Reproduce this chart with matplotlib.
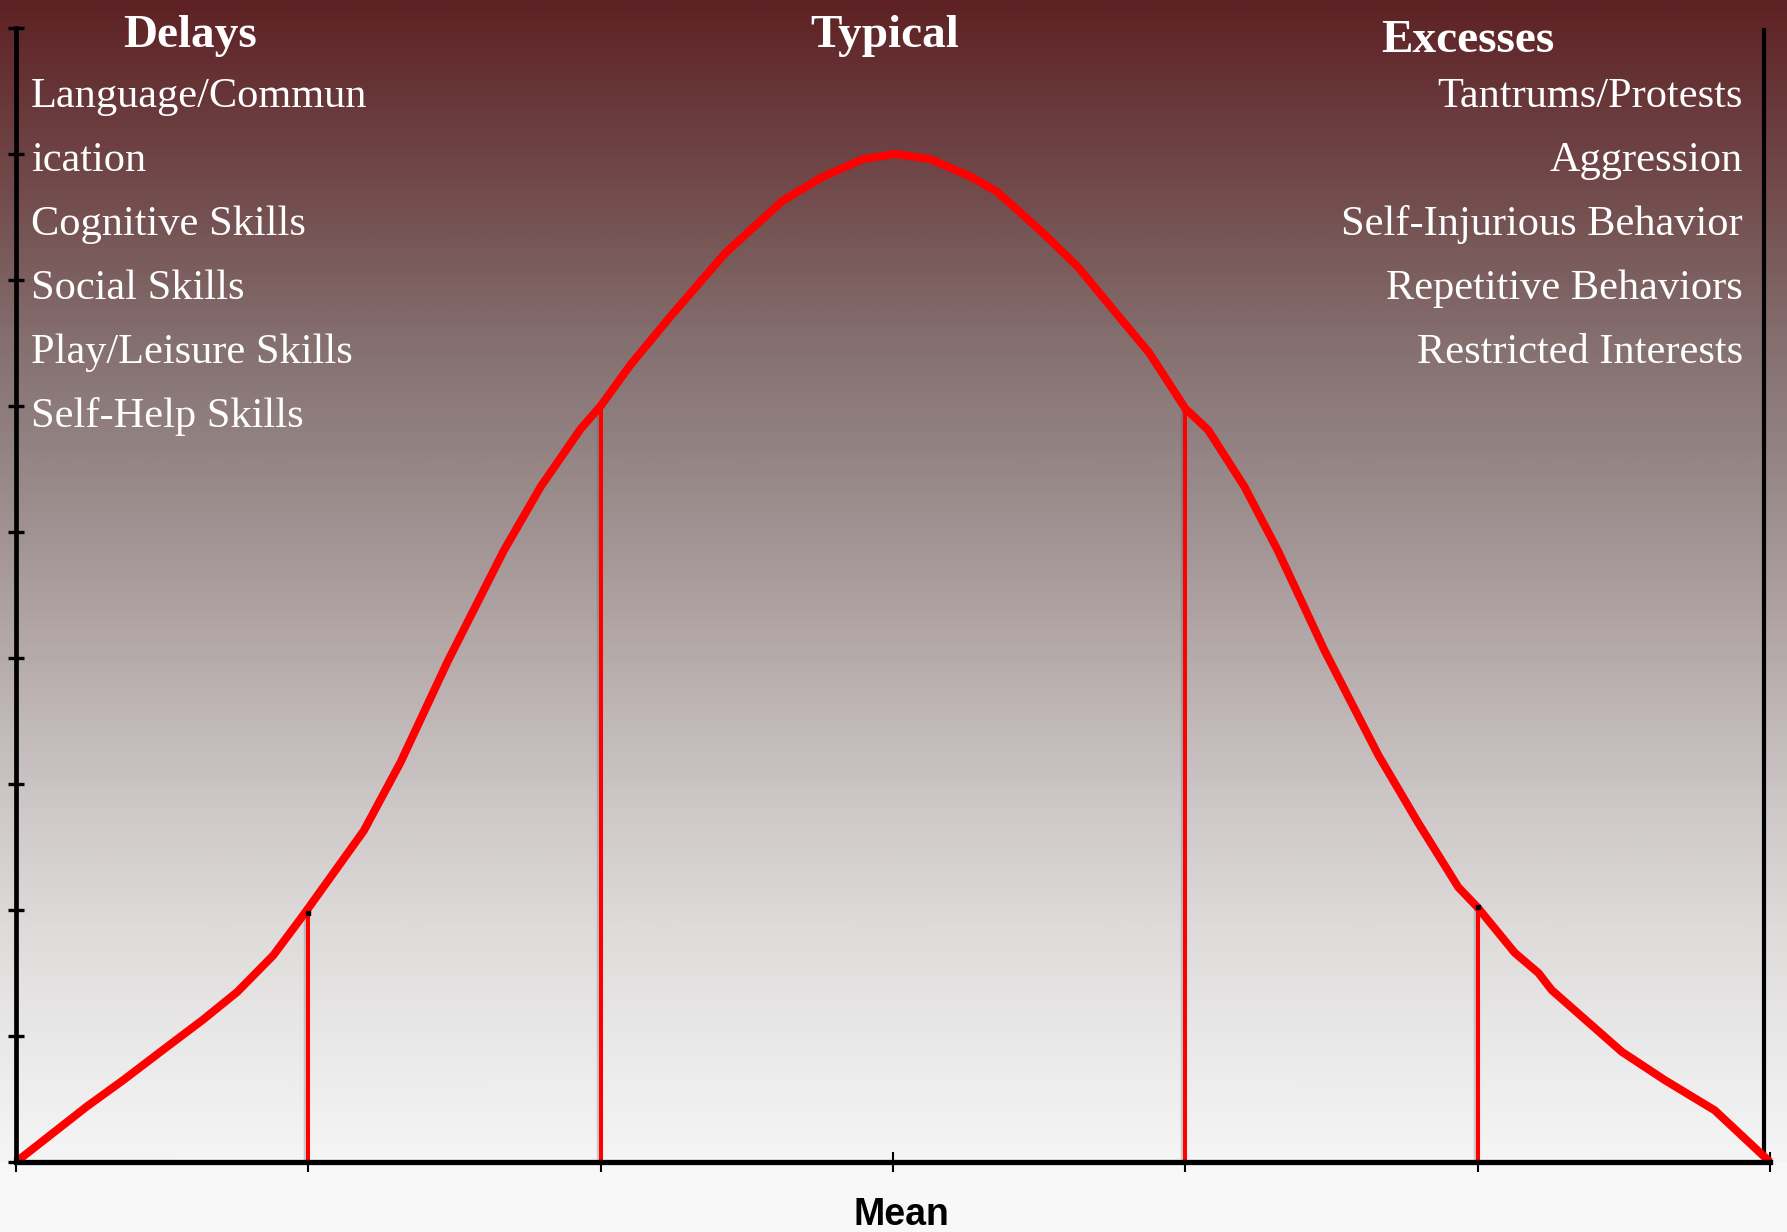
import numpy as np
import matplotlib
matplotlib.use("Agg")
import matplotlib.pyplot as plt
from matplotlib.colors import LinearSegmentedColormap
import matplotlib.transforms as mtransforms

# ---- data ----
curve_x = [-3.0, -2.758, -2.633, -2.497, -2.36, -2.243, -2.12, -2.017, -1.949, -1.81,
           -1.743, -1.685, -1.524, -1.332, -1.205, -1.068, -1.0, -0.897, -0.758, -0.575,
           -0.5, -0.377, -0.24, -0.101, 0.007, 0.127, 0.266, 0.356, 0.51, 0.634,
           0.755, 0.877, 1.0, 1.078, 1.202, 1.317, 1.476, 1.66, 1.797, 1.934,
           2.0, 2.127, 2.208, 2.253, 2.493, 2.64, 2.811, 3.0]
curve_y = [0.0, 0.44, 0.65, 0.89, 1.13, 1.35, 1.64, 1.96, 2.18, 2.63,
           2.92, 3.17, 3.97, 4.85, 5.36, 5.82, 6.0, 6.33, 6.72, 7.21,
           7.37, 7.63, 7.82, 7.96, 8.0, 7.96, 7.82, 7.70, 7.38, 7.10,
           6.76, 6.42, 5.98, 5.81, 5.36, 4.85, 4.06, 3.23, 2.69, 2.18,
           2.02, 1.66, 1.50, 1.365, 0.875, 0.65, 0.41, 0.0]
sd_x = [-2, -1, 1, 2]
sd_top = [1.98, 6.0, 5.98, 2.02]
x_ticks = [-3, -2, -1, 0, 1, 2, 3]
y_ticks = list(range(0, 10))

headers = ["Delays", "Typical", "Excesses"]
delays = ["Language/Commun", "ication", "Cognitive Skills", "Social Skills",
          "Play/Leisure Skills", "Self-Help Skills"]
excesses = ["Tantrums/Protests", "Aggression", "Self-Injurious Behavior",
            "Repetitive Behaviors", "Restricted Interests"]
xlabel = "Mean"

W, H = 1787, 1232
fig = plt.figure(figsize=(W / 100, H / 100), dpi=100)

# ---- background gradient ----
bg = fig.add_axes([0, 0, 1, 1], zorder=-10)
bg.set_axis_off()
stops = ["#5E2124", "#6A3B3D", "#775555", "#867171", "#968686", "#A99C9C",
         "#BDB3B3", "#CFC9C9", "#DEDBDA", "#EAE9E9", "#F5F5F5"]
cmap = LinearSegmentedColormap.from_list("bg", stops)
axis_bottom_px = 1162
rows = np.arange(H)
vals = np.clip(rows / axis_bottom_px, 0, 1)
img = cmap(vals)[:, None, :]
img[rows > axis_bottom_px] = np.array([0.976, 0.976, 0.976, 1.0])
bg.imshow(img, aspect="auto", extent=[0, 1, 0, 1], interpolation="bilinear")
bg.set_xlim(0, 1)
bg.set_ylim(0, 1)

# ---- main axes ----
left, right = 16 / W, 1770 / W
bottom, top = 1 - 1162 / H, 1 - 28 / H
ax = fig.add_axes([left, bottom, right - left, top - bottom])
ax.set_facecolor("none")
ax.set_xlim(-3, 3)
ax.set_ylim(0, 9)

# faint shadow of the SD lines
shadow = mtransforms.offset_copy(ax.transData, fig=fig, x=-2.2, y=0, units="points")
ax.vlines(sd_x, 0, sd_top, colors="#555555", linewidth=2.5, alpha=0.25,
          transform=shadow, zorder=2.5)
ax.vlines(sd_x, 0, sd_top, colors="#FF0000", linewidth=2.9, zorder=3)
ax.plot(curve_x, curve_y, color="#FF0000", linewidth=5.8, solid_joinstyle="round",
        solid_capstyle="butt", clip_on=False, zorder=4)
ax.plot([sd_x[0], sd_x[-1]], [sd_top[0], sd_top[-1]], linestyle="none", marker="s",
        markersize=3.5, color="black", zorder=5)

# right line
ax.axvline(2.979, ymin=0, ymax=1, color="black", linewidth=3.0, zorder=2)

for s in ["top", "right"]:
    ax.spines[s].set_visible(False)
ax.spines["left"].set_linewidth(3.4)
ax.spines["bottom"].set_linewidth(3.8)
ax.spines["left"].set_zorder(6)
ax.spines["bottom"].set_zorder(6)

ax.set_xticks(x_ticks)
ax.set_yticks(y_ticks)
ax.set_xticklabels([])
ax.set_yticklabels([])
ax.tick_params(axis="x", direction="inout", length=14, width=1.5, color="black")
ax.tick_params(axis="y", direction="inout", length=11, width=2.4, color="black")

# ---- texts ----
serif = ["Liberation Serif", "DejaVu Serif"]

def fx(px):
    return px / W

def fy(py):
    return 1 - py / H

fig.text(fx(190), fy(47), headers[0], family=serif, fontweight="bold", fontsize=34,
         color="white", ha="center", va="baseline")
fig.text(fx(885), fy(47), headers[1], family=serif, fontweight="bold", fontsize=34,
         color="white", ha="center", va="baseline")
fig.text(fx(1468), fy(52), headers[2], family=serif, fontweight="bold", fontsize=34,
         color="white", ha="center", va="baseline")

base0, step = 107, 64
for i, t in enumerate(delays):
    fig.text(fx(31), fy(base0 + i * step), t, family=serif, fontsize=30.5,
             color="white", ha="left", va="baseline")
for i, t in enumerate(excesses):
    fig.text(fx(1743), fy(base0 + i * step), t, family=serif, fontsize=30.5,
             color="white", ha="right", va="baseline")

fig.text(fx(901), fy(1225), xlabel, family=["Liberation Sans", "DejaVu Sans"],
         fontweight="bold", fontsize=27, color="black", ha="center", va="baseline")

fig.savefig("out.png", dpi=100)
